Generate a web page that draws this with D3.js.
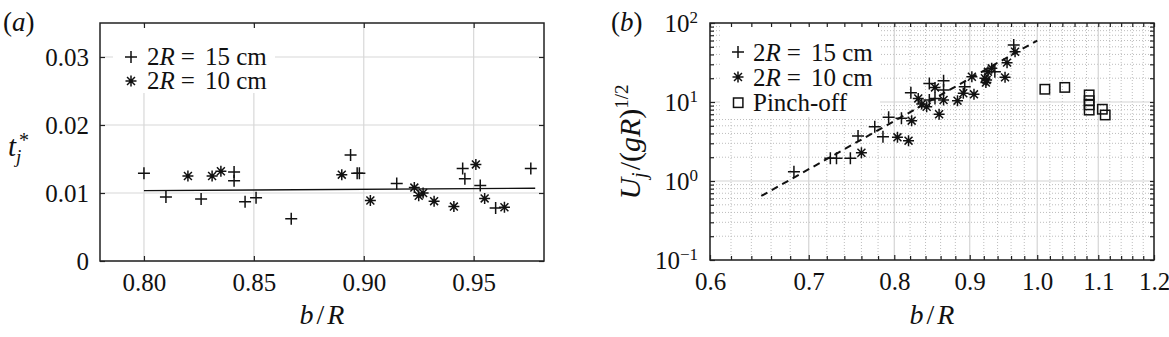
<!DOCTYPE html>
<html><head><meta charset="utf-8">
<script src="https://cdn.jsdelivr.net/npm/d3@7"></script>
<style>
body{margin:0;background:#fff}
svg{display:block}
text{font-family:"Liberation Serif","Times New Roman",serif;fill:#111}
</style>
</head><body>
<svg id="c" width="1169" height="337"></svg>
<script>
// ---------- Panel (a) data ----------
const aTicksX = [0.80, 0.85, 0.90, 0.95];
const aTicksY = [0, 0.01, 0.02, 0.03];
const a15X = [0.800, 0.810, 0.826, 0.841, 0.841, 0.846, 0.851, 0.867, 0.894, 0.897, 0.898, 0.915, 0.945, 0.946, 0.953, 0.960, 0.976];
const a15Y = [0.0129, 0.0094, 0.0091, 0.0131, 0.0118, 0.0087, 0.0093, 0.0062, 0.0156, 0.0129, 0.0129, 0.0114, 0.0136, 0.0121, 0.0111, 0.0078, 0.0136];
const a10X = [0.820, 0.831, 0.835, 0.890, 0.903, 0.923, 0.925, 0.927, 0.932, 0.941, 0.951, 0.955, 0.964];
const a10Y = [0.0125, 0.0125, 0.0132, 0.0127, 0.0089, 0.0108, 0.0096, 0.0100, 0.0088, 0.0080, 0.0142, 0.0092, 0.0079];
const aFitX = [0.800, 0.978];
const aFitY = [0.01035, 0.0107];

// ---------- Panel (b) data ----------
const bTicksX = [0.6, 0.7, 0.8, 0.9, 1.0, 1.1, 1.2];
const bTicksY = [0.1, 1, 10, 100];
const b15X = [0.684, 0.724, 0.731, 0.747, 0.756, 0.776, 0.786, 0.793, 0.809, 0.821, 0.845, 0.845, 0.8525, 0.864, 0.864, 0.893, 0.936, 0.964];
const b15Y = [1.31, 1.94, 1.94, 1.94, 3.71, 4.87, 3.64, 6.4, 6.22, 13.1, 10.6, 17.2, 11.1, 18.6, 14.2, 15.6, 24.2, 52.7];
const b10X = [0.760, 0.804, 0.818, 0.822, 0.8305, 0.835, 0.8415, 0.8525, 0.858, 0.864, 0.883, 0.891, 0.903, 0.906, 0.9216, 0.923, 0.924, 0.926, 0.9314, 0.951, 0.954, 0.966];
const b10Y = [2.28, 3.57, 3.24, 5.8, 11.1, 9.4, 8.7, 15.3, 7.0, 10.6, 10.4, 12.9, 20.9, 12.5, 20.0, 17.6, 19.0, 24.2, 26.7, 20.5, 31.5, 43.3];
const bPinchX = [1.012, 1.044, 1.0845, 1.0845, 1.0845, 1.0845, 1.107, 1.112];
const bPinchY = [14.5, 15.3, 12.3, 10.4, 9.2, 7.9, 8.1, 6.85];
const bFitX = [0.65, 1.0];
const bFitY = [0.646, 60];
const supLabels = {"0.1": "\u22121", "1": "0", "10": "1", "100": "2"};

const svg = d3.select("#c");
const FONT = '"Liberation Serif","Times New Roman",serif';
const TFS = 25;

function plusPath(r){ return `M${-r},0L${r},0M0,${-r}L0,${r}`; }
function starPath(r){ const k=r*0.72; return `M${-r},0L${r},0M0,${-r}L0,${r}M${-k},${-k}L${k},${k}M${-k},${k}L${k},${-k}`; }

function styleAxis(g, fs){
  g.attr("font-family", FONT).attr("font-size", fs);
  g.select(".domain").remove();
  g.selectAll("line").attr("stroke", "#222").attr("stroke-width", 1.2);
  g.selectAll("text").attr("fill", "#111");
}

function legendText(g, x, y, num){
  const t = g.append("text").attr("x", x).attr("y", y).attr("font-size", TFS);
  t.append("tspan").text("2");
  t.append("tspan").attr("font-style", "italic").text("R");
  t.append("tspan").attr("dx", 6).text("=");
  t.append("tspan").attr("dx", 10).text(num + " cm");
}

// ================= Panel (a) =================
const xa = d3.scaleLinear().domain([0.78, 0.982]).range([100, 544]);
const ya = d3.scaleLinear().domain([0, 0.035]).range([261, 23]);
const gA = svg.append("g");

gA.selectAll(".gxa").data(aTicksX).join("line")
  .attr("x1", d => xa(d)).attr("x2", d => xa(d)).attr("y1", ya(0.035)).attr("y2", ya(0))
  .attr("stroke", "#d8d8d8").attr("stroke-width", 1.2);
gA.selectAll(".gya").data(aTicksY).join("line")
  .attr("x1", xa(0.78)).attr("x2", xa(0.982)).attr("y1", d => ya(d)).attr("y2", d => ya(d))
  .attr("stroke", "#d8d8d8").attr("stroke-width", 1.2);

gA.append("rect").attr("x", 113).attr("y", 25).attr("width", 162).attr("height", 68).attr("fill", "#fff");

gA.append("path").datum(aFitX.map((x, i) => [x, aFitY[i]]))
  .attr("d", d3.line().x(d => xa(d[0])).y(d => ya(d[1])))
  .attr("stroke", "#111").attr("stroke-width", 1.4).attr("fill", "none");

gA.selectAll(".p15").data(a15X.map((x, i) => [x, a15Y[i]])).join("path")
  .attr("transform", d => `translate(${xa(d[0])},${ya(d[1])})`)
  .attr("d", plusPath(6)).attr("stroke", "#111").attr("stroke-width", 1.5).attr("fill", "none");
gA.selectAll(".p10").data(a10X.map((x, i) => [x, a10Y[i]])).join("path")
  .attr("transform", d => `translate(${xa(d[0])},${ya(d[1])})`)
  .attr("d", starPath(5.5)).attr("stroke", "#111").attr("stroke-width", 1.5).attr("fill", "none");

const axA_b = gA.append("g").attr("transform", `translate(0,${ya(0)})`)
  .call(d3.axisBottom(xa).tickValues(aTicksX).tickSize(-5).tickPadding(12).tickFormat(d3.format(".2f")));
styleAxis(axA_b, TFS);
const axA_l = gA.append("g").attr("transform", `translate(${xa(0.78)},0)`)
  .call(d3.axisLeft(ya).tickValues(aTicksY).tickSize(-5).tickPadding(11).tickFormat(d => d === 0 ? "0" : d3.format(".2f")(d)));
styleAxis(axA_l, TFS);
const axA_t = gA.append("g").attr("transform", `translate(0,${ya(0.035)})`)
  .call(d3.axisTop(xa).tickValues(aTicksX).tickSize(-5).tickFormat(""));
styleAxis(axA_t, TFS);
const axA_r = gA.append("g").attr("transform", `translate(${xa(0.982)},0)`)
  .call(d3.axisRight(ya).tickValues(aTicksY).tickSize(-5).tickFormat(""));
styleAxis(axA_r, TFS);

gA.append("rect").attr("x", xa(0.78)).attr("y", ya(0.035)).attr("width", xa(0.982) - xa(0.78)).attr("height", ya(0) - ya(0.035))
  .attr("fill", "none").attr("stroke", "#222").attr("stroke-width", 1.5);

gA.append("path").attr("transform", "translate(131,57)").attr("d", plusPath(6)).attr("stroke", "#111").attr("stroke-width", 1.5);
gA.append("path").attr("transform", "translate(131,81)").attr("d", starPath(5.5)).attr("stroke", "#111").attr("stroke-width", 1.5);
legendText(gA, 147, 65, "15");
legendText(gA, 147, 89, "10");

svg.append("text").attr("x", 3).attr("y", 31).attr("font-size", 27).html('(<tspan font-style="italic">a</tspan>)');
svg.append("text").attr("x", 8).attr("y", 156).attr("font-size", 29).attr("font-style", "italic").text("t");
svg.append("text").attr("x", 16).attr("y", 163).attr("font-size", 19).attr("font-style", "italic").text("j");
svg.append("text").attr("x", 19).attr("y", 147).attr("font-size", 20).text("*");
svg.append("text").attr("x", 322).attr("y", 324).attr("font-size", 28).attr("text-anchor", "middle")
  .attr("font-style", "italic").html('b<tspan dx="3" font-style="normal">/</tspan><tspan dx="3">R</tspan>');

// ================= Panel (b) =================
const xb = d3.scaleLog().domain([0.6, 1.2]).range([710, 1154]);
const yb = d3.scaleLog().domain([0.1, 100]).range([260, 23]);
const gB = svg.append("g");

const bMinorX = d3.range(31).map(i => 0.6 + i * 0.02).filter(v => Math.abs(v * 10 - Math.round(v * 10)) > 1e-6);
const bMinorY = [];
[0.1, 1, 10].forEach(dec => { for (let m = 2; m <= 9; m++) bMinorY.push(dec * m); });

gB.selectAll(".mgx").data(bMinorX).join("line")
  .attr("x1", d => xb(d)).attr("x2", d => xb(d)).attr("y1", 23).attr("y2", 260)
  .attr("stroke", "#bdbdbd").attr("stroke-width", 1).attr("stroke-dasharray", "1,2");
gB.selectAll(".mgy").data(bMinorY).join("line")
  .attr("x1", 710).attr("x2", 1154).attr("y1", d => yb(d)).attr("y2", d => yb(d))
  .attr("stroke", "#bdbdbd").attr("stroke-width", 1).attr("stroke-dasharray", "1,2");
gB.selectAll(".gxb").data(bTicksX).join("line")
  .attr("x1", d => xb(d)).attr("x2", d => xb(d)).attr("y1", 23).attr("y2", 260)
  .attr("stroke", "#d4d4d4").attr("stroke-width", 1.2);
gB.selectAll(".gyb").data(bTicksY).join("line")
  .attr("x1", 710).attr("x2", 1154).attr("y1", d => yb(d)).attr("y2", d => yb(d))
  .attr("stroke", "#d4d4d4").attr("stroke-width", 1.2);

gB.append("rect").attr("x", 720).attr("y", 25).attr("width", 160).attr("height", 92).attr("fill", "#fff");

gB.append("path").datum(bFitX.map((x, i) => [x, bFitY[i]]))
  .attr("d", d3.line().x(d => xb(d[0])).y(d => yb(d[1])))
  .attr("stroke", "#111").attr("stroke-width", 2).attr("stroke-dasharray", "7,5").attr("fill", "none");

gB.selectAll(".q15").data(b15X.map((x, i) => [x, b15Y[i]])).join("path")
  .attr("transform", d => `translate(${xb(d[0])},${yb(d[1])})`)
  .attr("d", plusPath(6)).attr("stroke", "#111").attr("stroke-width", 1.5).attr("fill", "none");
gB.selectAll(".q10").data(b10X.map((x, i) => [x, b10Y[i]])).join("path")
  .attr("transform", d => `translate(${xb(d[0])},${yb(d[1])})`)
  .attr("d", starPath(5.5)).attr("stroke", "#111").attr("stroke-width", 1.5).attr("fill", "none");
gB.selectAll(".qp").data(bPinchX.map((x, i) => [x, bPinchY[i]])).join("rect")
  .attr("x", d => xb(d[0]) - 4.7).attr("y", d => yb(d[1]) - 4.7).attr("width", 9.4).attr("height", 9.4)
  .attr("stroke", "#111").attr("stroke-width", 1.5).attr("fill", "none");

const axB_b = gB.append("g").attr("transform", "translate(0,260)")
  .call(d3.axisBottom(xb).tickValues(bTicksX).tickSize(-5).tickPadding(12).tickFormat(d3.format(".1f")));
styleAxis(axB_b, TFS);
const axB_bm = gB.append("g").attr("transform", "translate(0,260)")
  .call(d3.axisBottom(xb).tickValues(bMinorX).tickSize(-4).tickFormat(""));
styleAxis(axB_bm, TFS);
const axB_t = gB.append("g").attr("transform", "translate(0,23)")
  .call(d3.axisTop(xb).tickValues(bTicksX.concat(bMinorX)).tickSize(-4).tickFormat(""));
styleAxis(axB_t, TFS);
const axB_l = gB.append("g").attr("transform", "translate(710,0)")
  .call(d3.axisLeft(yb).tickValues(bTicksY).tickSize(-5).tickPadding(12).tickFormat(d => "10"));
styleAxis(axB_l, TFS);
axB_l.selectAll(".tick text").each(function(d){
  d3.select(this).append("tspan").attr("dy", "-0.5em").attr("font-size", 17).text(supLabels[String(d)]);
});
const axB_lm = gB.append("g").attr("transform", "translate(710,0)")
  .call(d3.axisLeft(yb).tickValues(bMinorY).tickSize(-4).tickFormat(""));
styleAxis(axB_lm, TFS);
const axB_r = gB.append("g").attr("transform", "translate(1154,0)")
  .call(d3.axisRight(yb).tickValues(bTicksY.concat(bMinorY)).tickSize(-4).tickFormat(""));
styleAxis(axB_r, TFS);

gB.append("rect").attr("x", 710).attr("y", 23).attr("width", 444).attr("height", 237)
  .attr("fill", "none").attr("stroke", "#222").attr("stroke-width", 1.5);

gB.append("path").attr("transform", "translate(738,52)").attr("d", plusPath(6)).attr("stroke", "#111").attr("stroke-width", 1.5);
gB.append("path").attr("transform", "translate(738,77)").attr("d", starPath(5.5)).attr("stroke", "#111").attr("stroke-width", 1.5);
gB.append("rect").attr("x", 733.5).attr("y", 98).attr("width", 9.4).attr("height", 9.4).attr("fill", "none").attr("stroke", "#111").attr("stroke-width", 1.5);
legendText(gB, 753, 61, "15");
legendText(gB, 753, 86, "10");
gB.append("text").attr("x", 753).attr("y", 111).attr("font-size", TFS).text("Pinch-off");

svg.append("text").attr("x", 611).attr("y", 31).attr("font-size", 27).html('(<tspan font-style="italic">b</tspan>)');
svg.append("text").attr("x", 932).attr("y", 324).attr("font-size", 28).attr("text-anchor", "middle")
  .attr("font-style", "italic").html('b<tspan dx="3" font-style="normal">/</tspan><tspan dx="3">R</tspan>');
const yl = svg.append("text").attr("transform", "translate(640,142) rotate(-90)").attr("text-anchor", "middle").attr("font-size", 30);
yl.append("tspan").attr("font-style", "italic").text("U");
yl.append("tspan").attr("font-style", "italic").attr("font-size", 20).attr("dy", 6).text("j");
yl.append("tspan").attr("dy", -6).attr("dx", 2).text("/(");
yl.append("tspan").attr("font-style", "italic").text("gR");
yl.append("tspan").text(")");
yl.append("tspan").attr("font-size", 19).attr("dy", -12).text("1/2");
</script>
</body></html>
